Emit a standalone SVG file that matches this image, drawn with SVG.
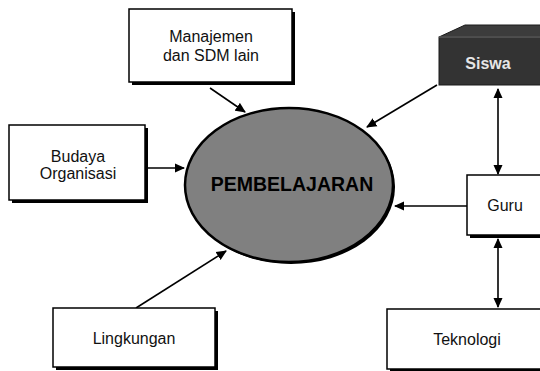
<svg xmlns="http://www.w3.org/2000/svg" width="540" height="371" viewBox="0 0 540 371">
<style>
.box{fill:#fff;stroke:#000;stroke-width:1.5}
.shadow{fill:#000}
.t{font-family:"Liberation Sans",Arial,sans-serif;font-size:16px;text-anchor:middle;fill:#111}
.c{stroke:#000;stroke-width:1.6;fill:none;marker-end:url(#ah)}
.d{stroke:#000;stroke-width:1.6;fill:none;marker-end:url(#ah);marker-start:url(#ah)}
</style>
<defs>
<marker id="ah" viewBox="0 0 10 10" refX="9" refY="5" markerWidth="6.5" markerHeight="6.5" orient="auto-start-reverse" markerUnits="strokeWidth">
<path d="M0,0.5 L10,5 L0,9.5 z" fill="#000"/>
</marker>
</defs>
<rect width="540" height="371" fill="#fff"/>
<g id="connectors">
<line class="c" x1="210" y1="88" x2="245" y2="112"/>
<line class="c" x1="437" y1="85" x2="367" y2="127"/>
<line class="c" x1="147" y1="168" x2="184" y2="168"/>
<line class="c" x1="467" y1="206" x2="395" y2="206"/>
<line class="c" x1="136" y1="308" x2="226" y2="251"/>
<line class="d" x1="498" y1="89" x2="498" y2="174"/>
<line class="d" x1="498" y1="239" x2="498" y2="307"/>
</g>
<g id="manajemen">
<rect class="shadow" x="132" y="12" width="163" height="73"/>
<rect class="box" x="129" y="9" width="163" height="73"/>
<text class="t" x="211" y="42">Manajemen</text>
<text class="t" x="211" y="61">dan SDM lain</text>
</g>
<g id="siswa">
<polygon points="439,37 465,25 545,25 545,37" fill="#3c3c3c" stroke="#1a1a1a" stroke-width="1"/>
<rect x="439" y="37" width="106" height="48" fill="#333" stroke="#1a1a1a" stroke-width="1"/>
<line x1="439" y1="37" x2="545" y2="37" stroke="#777" stroke-width="1"/>
<text x="488" y="69" font-family="'Liberation Sans',Arial,sans-serif" font-size="16" font-weight="bold" fill="#e6e6e6" text-anchor="middle">Siswa</text>
</g>
<g id="budaya">
<rect class="shadow" x="12" y="128" width="136" height="75"/>
<rect class="box" x="9" y="125" width="136" height="75"/>
<text class="t" x="78" y="162">Budaya</text>
<text class="t" x="78" y="179">Organisasi</text>
</g>
<g id="pembelajaran">
<ellipse cx="291" cy="187" rx="104" ry="77" fill="#000"/>
<ellipse cx="289" cy="185" rx="104" ry="77" fill="#808080" stroke="#000" stroke-width="2.5"/>
<text x="292" y="191" font-family="'Liberation Sans',Arial,sans-serif" font-size="19.5" font-weight="bold" fill="#000" text-anchor="middle">PEMBELAJARAN</text>
</g>
<g id="guru">
<rect class="shadow" x="470" y="178" width="80" height="60"/>
<rect class="box" x="467" y="175" width="80" height="60"/>
<text class="t" x="505" y="211">Guru</text>
</g>
<g id="lingkungan">
<rect class="shadow" x="56" y="311" width="162" height="59"/>
<rect class="box" x="53" y="308" width="162" height="59"/>
<text class="t" x="134" y="344">Lingkungan</text>
</g>
<g id="teknologi">
<rect class="shadow" x="390" y="312" width="160" height="60"/>
<rect class="box" x="387" y="309" width="160" height="60"/>
<text class="t" x="467" y="345">Teknologi</text>
</g>
</svg>
